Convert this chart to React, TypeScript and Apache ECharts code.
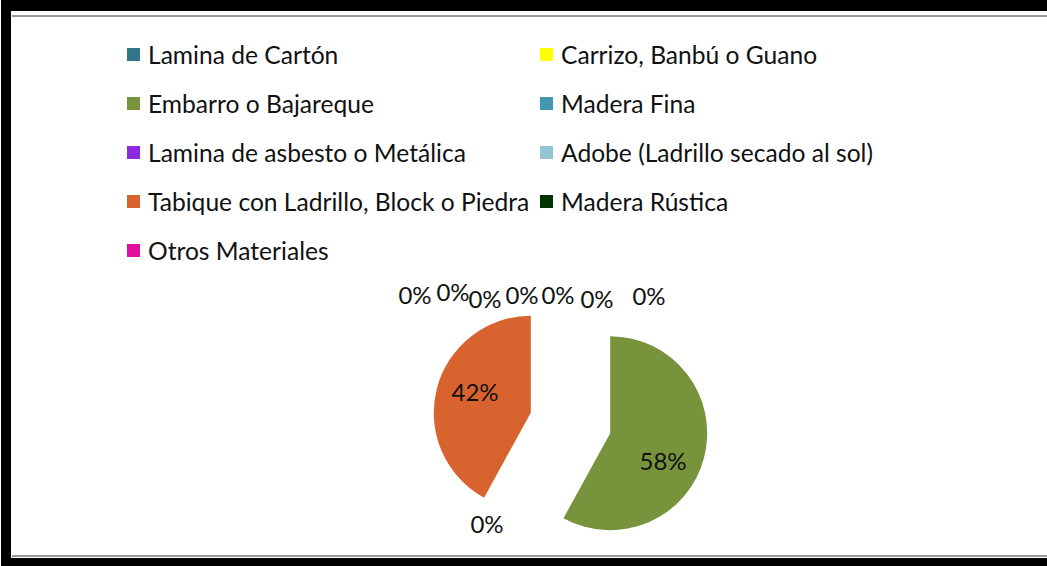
import React, { useEffect, useRef } from "react";
import * as echarts from "echarts";

const categories = [
  "Lamina de Cartón",
  "Carrizo, Banbú o Guano",
  "Embarro o Bajareque",
  "Madera Fina",
  "Lamina de asbesto o Metálica",
  "Adobe (Ladrillo secado al sol)",
  "Tabique con Ladrillo, Block o Piedra",
  "Madera Rústica",
  "Otros Materiales",
  "",
];
const values = [0, 0, 58, 0, 0, 0, 42, 0, 0, 0];
const colors = [
  "#31758A",
  "#FFFF00",
  "#77933C",
  "#4198AF",
  "#8A2BE2",
  "#93C4D3",
  "#D9632F",
  "#003300",
  "#E0109C",
  "#999999",
];
// label anchor points (page pixels) per data index
const labelPos: [number, number][] = [
  [558, 294],
  [597, 298],
  [663, 460],
  [649, 295],
  [485, 298],
  [487, 523],
  [475, 391],
  [415, 294],
  [453, 291],
  [522, 294],
];

const FONT = "Lato";
const CENTER: [number, number] = [570.5, 423];
const RADIUS = 97;
const EXPLODE = 41;

export default function App() {
  const ref = useRef<HTMLDivElement>(null);
  useEffect(() => {
    const chart = echarts.init(ref.current!, undefined, { renderer: "svg" });
    const legendItems = categories
      .map((c, i) => ({ name: c, itemStyle: { color: colors[i] } }))
      .filter((d) => d.name !== "");
    const col1 = legendItems.filter((_, i) => i % 2 === 0);
    const col2 = legendItems.filter((_, i) => i % 2 === 1);
    const legendBase = {
      orient: "vertical" as const,
      top: 42,
      padding: 0,
      itemWidth: 13,
      itemHeight: 13,
      itemGap: 24,
      icon: "rect",
      selectedMode: false,
      textStyle: {
        fontFamily: FONT,
        fontSize: 24.6,
        lineHeight: 24,
        color: "#111",
        padding: [0, 0, 0, 3],
      },
    };
    const total = values.reduce((a, b) => a + b, 0);
    const sliceSeries: any[] = [];
    let cum = 0;
    values.forEach((v, k) => {
      const mid = ((cum + v / 2) / total) * Math.PI * 2;
      cum += v;
      if (v <= 0) return;
      sliceSeries.push({
        type: "pie",
        silent: true,
        center: [CENTER[0] + EXPLODE * Math.sin(mid), CENTER[1] - EXPLODE * Math.cos(mid)],
        radius: RADIUS,
        startAngle: 90,
        clockwise: true,
        label: { show: false },
        labelLine: { show: false },
        emphasis: { disabled: true },
        data: categories.map((c, i) => ({
          name: c,
          value: values[i],
          itemStyle: { color: i === k ? colors[i] : "rgba(0,0,0,0)", borderWidth: 0 },
        })),
      });
    });
    chart.setOption({
      animation: false,
      color: colors,
      legend: [
        { ...legendBase, left: 127, data: col1 },
        { ...legendBase, left: 540, data: col2 },
      ],
      graphic: [
        { type: "rect", shape: { x: 1, y: 0, width: 1046, height: 11 }, style: { fill: "#000" } },
        { type: "rect", shape: { x: 1, y: 0, width: 10, height: 566 }, style: { fill: "#000" } },
        { type: "rect", shape: { x: 1, y: 558, width: 1046, height: 8 }, style: { fill: "#000" } },
        { type: "rect", shape: { x: 12, y: 15, width: 1035, height: 2 }, style: { fill: "#9a9a9a" } },
        { type: "rect", shape: { x: 12, y: 555, width: 1035, height: 2 }, style: { fill: "#9a9a9a" } },
      ],
      series: [
        ...sliceSeries,
        {
          type: "pie",
          silent: true,
          center: CENTER,
          radius: RADIUS,
          startAngle: 90,
          clockwise: true,
          emphasis: { disabled: true },
          avoidLabelOverlap: false,
          labelLine: { show: false },
          label: {
            show: true,
            position: "outside",
            formatter: (p: any) => Math.round(p.percent) + "%",
            fontFamily: FONT,
            fontSize: 24,
            color: "#111",
          },
          labelLayout: (p: any) => ({
            x: labelPos[p.dataIndex][0],
            y: labelPos[p.dataIndex][1],
            align: "center",
            verticalAlign: "middle",
          }),
          data: categories.map((c, i) => ({
            name: c,
            value: values[i],
            itemStyle: { color: "rgba(0,0,0,0)", borderWidth: 0 },
          })),
        },
      ],
    });
    return () => chart.dispose();
  }, []);
  return (
    <div
      ref={ref}
      style={{ position: "fixed", left: 0, top: 0, width: 1047, height: 566, background: "#fff" }}
    />
  );
}
